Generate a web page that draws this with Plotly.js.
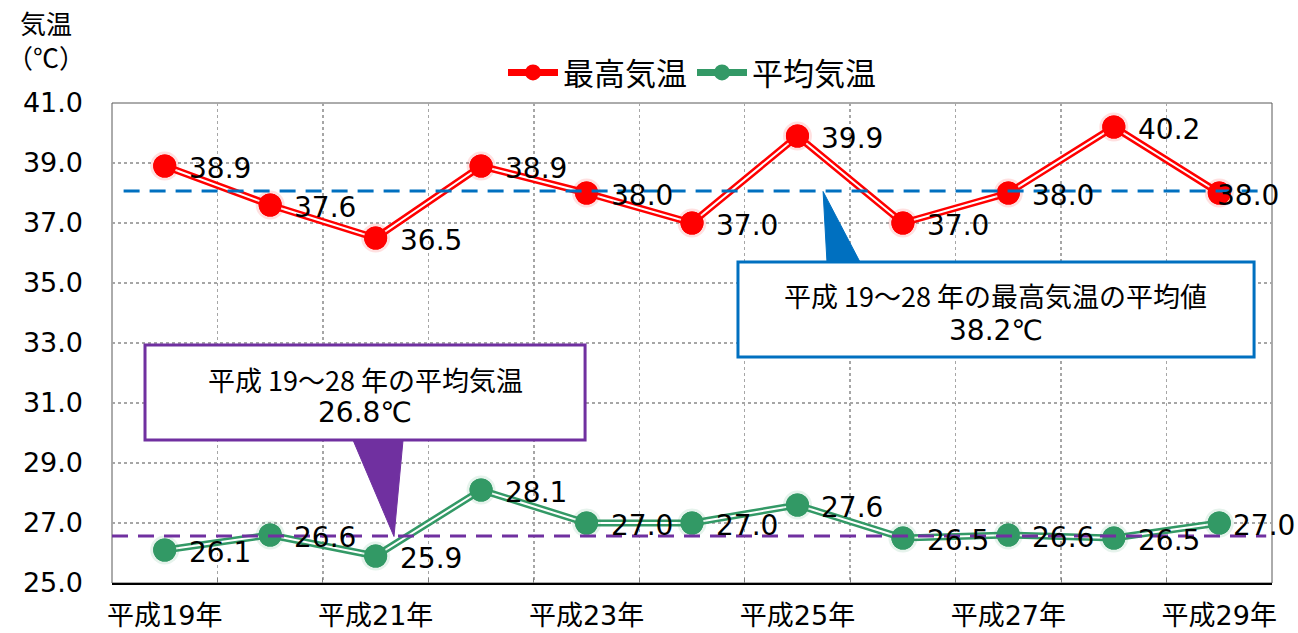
<!DOCTYPE html>
<html><head><meta charset="utf-8">
<script src="https://cdn.plot.ly/plotly-3.0.1.min.js"></script>
<style>html,body{margin:0;padding:0;background:#fff}#chart{width:1298px;height:633px}</style>
</head><body><div id="chart"></div>
<script>
const categories = ["平成19年","平成20年","平成21年","平成22年","平成23年","平成24年","平成25年","平成26年","平成27年","平成28年","平成29年"];
const maxTemp = [38.9, 37.6, 36.5, 38.9, 38.0, 37.0, 39.9, 37.0, 38.0, 40.2, 38.0];
const avgTemp = [26.1, 26.6, 25.9, 28.1, 27.0, 27.0, 27.6, 26.5, 26.6, 26.5, 27.0];
const seriesNames = ["最高気温", "平均気温"];
const maxRefLine = 38.07;   // drawn position of the 38.2℃ reference line
const avgRefLine = 26.57;   // drawn position of the 26.8℃ reference line
const maxCallout = ["平成 19～28 年の最高気温の平均値", "38.2℃"];
const avgCallout = ["平成 19～28 年の平均気温", "26.8℃"];

const RED = "#FF0000", GREEN = "#339966", BLUE = "#0070C0", PURPLE = "#7030A0";
const NUM_FONT = "DejaVu Sans, Noto Sans CJK JP, sans-serif";
const JP_FONT = "Noto Sans CJK JP, sans-serif";
const idx = categories.map((_, i) => i);

function seriesTraces(y, color, name, glow) {
  return [
    {x: idx, y: y, xaxis: "x2", mode: "markers", marker: {size: 29, color: glow}, hoverinfo: "skip", showlegend: false},
    {x: idx, y: y, mode: "lines+markers", name: name, line: {color: color, width: 7}, marker: {size: 23, color: color}, showlegend: true},
    {x: idx, y: y, mode: "lines", line: {color: "#FFFFFF", width: 2}, hoverinfo: "skip", showlegend: false},
    {x: idx, y: y, mode: "markers", marker: {size: 23, color: color}, hoverinfo: "skip", showlegend: false}
  ];
}

const data = [
  ...seriesTraces(maxTemp, RED, seriesNames[0], "rgba(255,0,0,0.12)"),
  ...seriesTraces(avgTemp, GREEN, seriesNames[1], "rgba(51,153,102,0.12)")
];

const labelAnns = [];
[[maxTemp, -4], [avgTemp, 12]].forEach(([arr, lastShift]) => arr.forEach((v, i) => {
  const last = i === arr.length - 1;
  labelAnns.push({x: i, y: v, xref: "x", yref: "y", text: v.toFixed(1), showarrow: false,
    xanchor: "left", yanchor: "middle", xshift: last ? lastShift : 22, yshift: -2,
    font: {family: NUM_FONT, size: 28, color: "#000"}});
}));

const boundaries = idx.slice(0, -1).map(i => i + 0.5);
const evenIdx = idx.filter(i => i % 2 === 0);

const layout = {
  width: 1298, height: 633,
  margin: {l: 112, r: 26, t: 103, b: 50},
  paper_bgcolor: "#fff", plot_bgcolor: "#fff",
  showlegend: true,
  legend: {orientation: "h", x: 0.5, xanchor: "center", y: 1.063, yanchor: "middle",
    font: {family: JP_FONT, size: 31, color: "#000"}, itemwidth: 50, bgcolor: "rgba(0,0,0,0)"},
  xaxis: {range: [-0.5, categories.length - 0.5], tickmode: "array", tickvals: boundaries,
    showticklabels: false, ticks: "inside", ticklen: 5, tickcolor: "#808080",
    showgrid: true, gridcolor: "#A6A6A6", griddash: "dot", gridwidth: 1.5,
    showline: true, linecolor: "#000", linewidth: 1.5, zeroline: false},
  xaxis2: {overlaying: "x", anchor: "y", side: "bottom", range: [-0.5, categories.length - 0.5],
    tickmode: "array", tickvals: evenIdx, ticktext: evenIdx.map(i => categories[i]),
    showgrid: false, ticks: "", showline: false, zeroline: false, ticklabelstandoff: 14,
    tickfont: {family: NUM_FONT, size: 27, color: "#000"}},
  yaxis: {range: [25, 41], tick0: 25, dtick: 2, tickformat: ".1f",
    showgrid: true, gridcolor: "#A6A6A6", griddash: "dot", gridwidth: 1.5,
    ticks: "", showline: false, zeroline: false, ticklabelstandoff: 28,
    tickfont: {family: NUM_FONT, size: 27, color: "#000"}},
  shapes: [
    {type: "rect", xref: "paper", yref: "paper", x0: 0, x1: 1, y0: 0, y1: 1, line: {color: "#595959", width: 1}, layer: "below"},
    {type: "line", xref: "paper", yref: "y", x0: 0.01, x1: 0.995, y0: maxRefLine, y1: maxRefLine, line: {color: BLUE, width: 3, dash: "16px,10px"}},
    {type: "line", xref: "paper", yref: "y", x0: 0, x1: 0.995, y0: avgRefLine, y1: avgRefLine, line: {color: PURPLE, width: 3, dash: "16px,10px"}},
    {type: "path", xref: "x", yref: "y", path: "M 6.243 38.05 L 6.28 35.7 L 6.593 35.7 Z", fillcolor: BLUE, line: {color: BLUE, width: 1}},
    {type: "rect", xref: "x", yref: "y", x0: 5.436, x1: 10.33, y0: 32.53, y1: 35.7, fillcolor: "#fff", line: {color: BLUE, width: 3}},
    {type: "path", xref: "x", yref: "y", path: "M 1.785 29.77 L 2.26 29.77 L 2.174 26.55 Z", fillcolor: PURPLE, line: {color: PURPLE, width: 1}},
    {type: "rect", xref: "x", yref: "y", x0: -0.187, x1: 3.986, y0: 29.77, y1: 32.93, fillcolor: "#fff", line: {color: PURPLE, width: 3}}
  ],
  annotations: [
    ...labelAnns,
    {xref: "paper", yref: "paper", x: -0.057, y: 1.21, xanchor: "center", yanchor: "top", showarrow: false, align: "center",
      text: "気温<br>（℃）", font: {family: JP_FONT, size: 26, color: "#000"}},
    {xref: "x", yref: "y", x: 7.88, y: 34.57, text: maxCallout[0], showarrow: false, font: {family: JP_FONT, size: 27, color: "#000"}},
    {xref: "x", yref: "y", x: 7.88, y: 33.43, text: maxCallout[1], showarrow: false, font: {family: NUM_FONT, size: 28, color: "#000"}},
    {xref: "x", yref: "y", x: 1.9, y: 31.77, text: avgCallout[0], showarrow: false, font: {family: JP_FONT, size: 27, color: "#000"}},
    {xref: "x", yref: "y", x: 1.9, y: 30.67, text: avgCallout[1], showarrow: false, font: {family: NUM_FONT, size: 28, color: "#000"}}
  ]
};

Plotly.newPlot("chart", data, layout, {displayModeBar: false, staticPlot: true});
</script>
</body></html>
